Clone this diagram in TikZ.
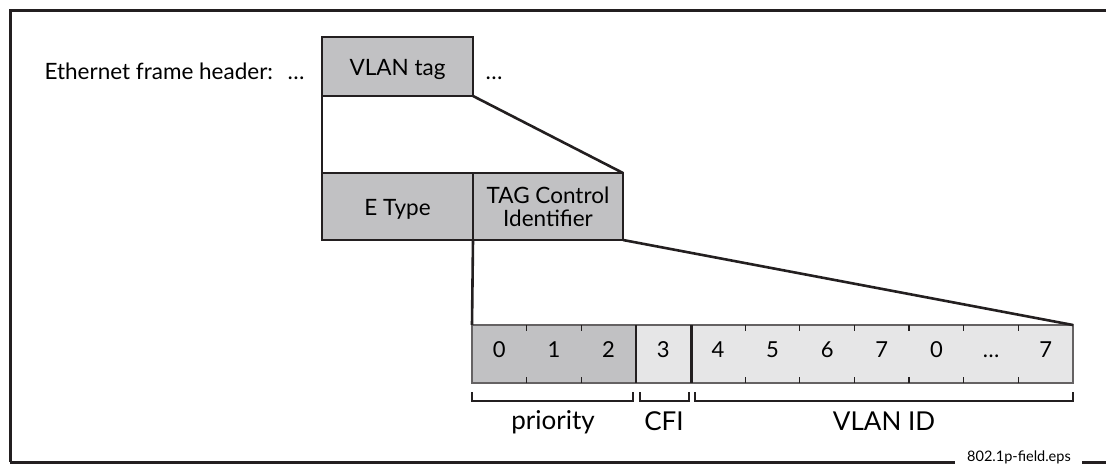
\documentclass[tikz,border=0pt]{standalone}
\usepackage{fontspec}
\setmainfont{Lato}

\definecolor{inkc}{RGB}{35,31,32}
\definecolor{tagfill}{RGB}{193,193,195}
\definecolor{bitfill}{RGB}{230,230,231}

\tikzset{
  ink/.style={draw=inkc, line width=2.6pt},
  box/.style={ink, fill=tagfill, inner sep=0pt, outer sep=0pt, font=\fontsize{22.5}{23}\selectfont},
  field/.style={box, minimum width=151pt, minimum height=59pt, text height=17pt, text depth=0pt},
  bits/.style={draw=inkc!70, line width=1.6pt, fill=bitfill, minimum height=58pt, inner sep=0pt, outer sep=0pt},
  sep/.style={draw=inkc, line width=2.6pt},
  tick/.style={draw=inkc, line width=1.3pt},
  bracket/.style={draw=inkc, line width=2.4pt},
  num/.style={anchor=base, font=\fontsize{22}{24}\selectfont},
  lbl/.style={anchor=base, font=\fontsize{26}{28}\selectfont},
  txt/.style={font=\fontsize{22.5}{24}\selectfont},
  frame/.style={draw=inkc, line width=3pt}
}

\begin{document}
\begin{tikzpicture}[x=1pt,y=-1pt]
    \useasboundingbox (0,0) rectangle (1106,466);
    % frame
    \draw[frame] (10,462) -- (10,10) -- (1106,10);
    \draw[frame] (10,462) -- (955,462) (1082,462) -- (1106,462);
    \node[anchor=base, font=\fontsize{14.5}{16}\selectfont] (eps) at (1019,461.5) {802.1p-field.eps};

    % header
    \node[txt, anchor=base west] (eth) at (41,79) {Ethernet frame header:};
    \node[txt, anchor=base] (dotl) at (296,79) {\ldots};
    \node[field] (vlan) at (397.5,66.5) {VLAN tag};
    \node[txt, anchor=base] (dotr) at (494,79) {\ldots};

    % tag
    \node[field, minimum height=67pt] (etype) at (397.5,206.5) {E Type};
    \node[box, minimum width=150pt, minimum height=67pt, align=center] (tci) at (548,206.5) {TAG Control\\Identifier};
    \draw[ink] (vlan.south west) -- (etype.north west);
    \draw[ink] (vlan.south east) -- (tci.north east);

    % bit field
    \node[bits, fill=tagfill, minimum width=164pt] (prio) at (554,354) {};
    \node[bits, minimum width=55.5pt] (cfi) at (663.75,354) {};
    \node[bits, minimum width=381.5pt] (vid) at (882.25,354) {};
    \draw[ink] (tci.south west) -- (prio.north west);
    \draw[ink] (tci.south east) -- (vid.north east);
    \draw[sep] (prio.north east) -- (prio.south east);
    \draw[sep] (cfi.north east) -- (cfi.south east);
    \foreach \k in {1,2,5,6,7,8,9,10}
        \draw[tick] ({472+\k*54.64},325) -- +(0,6) ({472+\k*54.64},383) -- +(0,-6);
    \foreach \d [count=\i from 0] in {0,1,2,3,4,5,6,7,0,\ldots,7}
        \node[num] (b\i) at ({472+(\i+0.5)*54.64},357) {\d};

    % brackets
    \draw[bracket] (472,392) |- (633,401) -- (633,392);
    \draw[bracket] (640,392) |- (689,401) -- (689,392);
    \draw[bracket] (695,392) |- (1073,401) -- (1073,392);
    \node[lbl] (lprio) at (553,429) {priority};
    \node[lbl] (lcfi) at (664,430) {CFI};
    \node[lbl] (lvid) at (884,430) {VLAN ID};
\end{tikzpicture}
\end{document}
